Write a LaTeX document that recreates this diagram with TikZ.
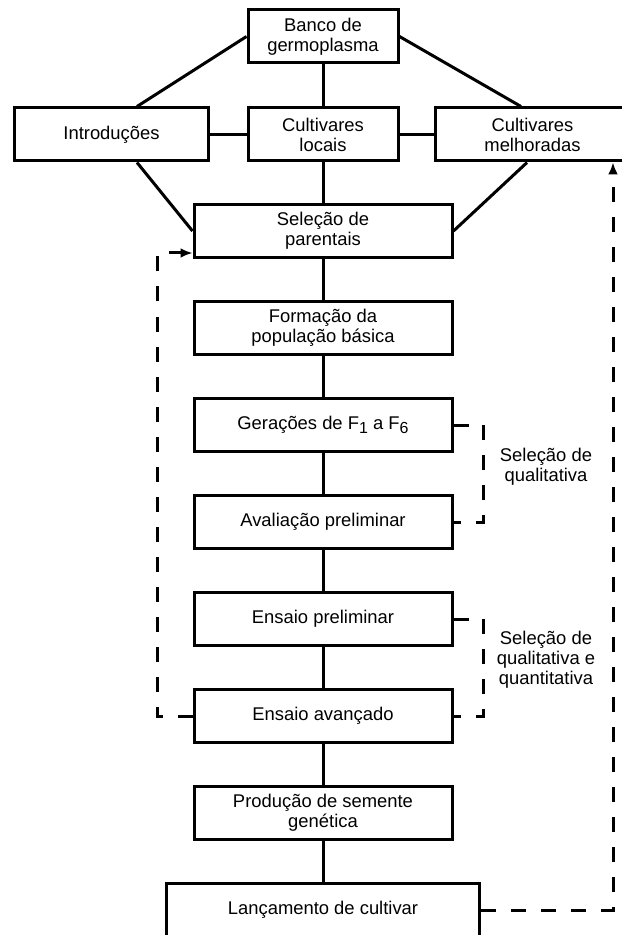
\documentclass[tikz,border=0pt]{standalone}
\usepackage{fontspec}
\setmainfont{Liberation Sans}
\usetikzlibrary{positioning,calc,arrows.meta}

\newcommand{\boxfont}{\fontsize{9.2}{10}\selectfont}
\newcommand{\idx}[1]{\raisebox{-2.2pt}{\fontsize{8}{8}\selectfont #1}}

\tikzset{
  box/.style={draw, line width=1.5pt, minimum height=26.5pt, inner sep=2pt,
    align=center, font=\boxfont},
  stage/.style={box, minimum width=129pt},
  note/.style={align=center, font=\boxfont, inner sep=0pt},
  link/.style={line width=1.5pt},
  fb/.style={line width=1.5pt, dash pattern=on 7.5pt off 7.5pt},
}

\begin{document}
\begin{tikzpicture}[x=0.5pt,y=-0.5pt,node distance=20.5pt]
\useasboundingbox (0,0) rectangle (621,935);
	% origem do material
	\node[box, minimum width=75pt] (banco) at (323,36.5) {Banco de\\germoplasma};
	\node[box, minimum width=97pt] (intro) at (111.5,134.5) {Introduções};
	\node[box, minimum width=75pt] (locais) at (323,134.5) {Cultivares\\locais};
	\node[box, minimum width=97pt] (melhor) at (532.5,134.5) {Cultivares\\melhoradas};
	%
	\node[stage] (sel) at (323,231) {Seleção de\\parentais};
	\node[stage, below=of sel] (form) {Formação da\\população básica};
	\node[stage, below=of form] (ger) {Gerações de F\idx{1} a F\idx{6}};
	\node[stage, below=of ger] (aval) {Avaliação preliminar};
	\node[stage, below=of aval] (ensp) {Ensaio preliminar};
	\node[stage, below=of ensp] (ensa) {Ensaio avançado};
	\node[stage, below=of ensa] (prod) {Produção de semente\\genética};
	\node[box, minimum width=156.5pt, below=of prod] (lanc) {Lançamento de cultivar};
	%
	\node[note] (selq) at (546,467) {Seleção de\\qualitativa};
	\node[note] (selqq) at (546,660) {Seleção de\\qualitativa e\\quantitativa};
	\coordinate (lx) at (157,0);
	\coordinate (rx) at (613,0);
	%
	\draw[link] (banco.south) -- (locais.north);
	\draw[link] (intro) -- (locais);
	\draw[link] (locais) -- (melhor);
	\draw[link] (locais.south) -- (sel.north);
	\draw[link] (banco.west) -- ($(intro.north)+(25.5,0)$);
	\draw[link] ($(intro.south)+(25.5,0)$) -- (sel.west);
	\draw[link] (banco.east) -- ($(melhor.north)+(-11.5,0)$);
	\draw[link] ($(melhor.south)+(-5.5,0)$) -- (sel.east);
	\foreach \a/\b in {sel/form, form/ger, ger/aval, aval/ensp, ensp/ensa, ensa/prod, prod/lanc}
		\draw[link] (\a) -- (\b);
	%
	\draw[fb] (ger.east) -- ++(30,0) |- (aval.east);
	\draw[fb] (ensp.east) -- ++(30,0) |- (ensa.east);
	\draw[fb, -{Latex[length=6pt,width=5pt]}] (ensa.west) -- (ensa.west -| lx) |- ($(sel.west)+(0,22)$);
	\draw[fb, -{Latex[length=6pt,width=5pt]}] (lanc.east) -| (rx |- melhor.south);
\end{tikzpicture}
\end{document}
